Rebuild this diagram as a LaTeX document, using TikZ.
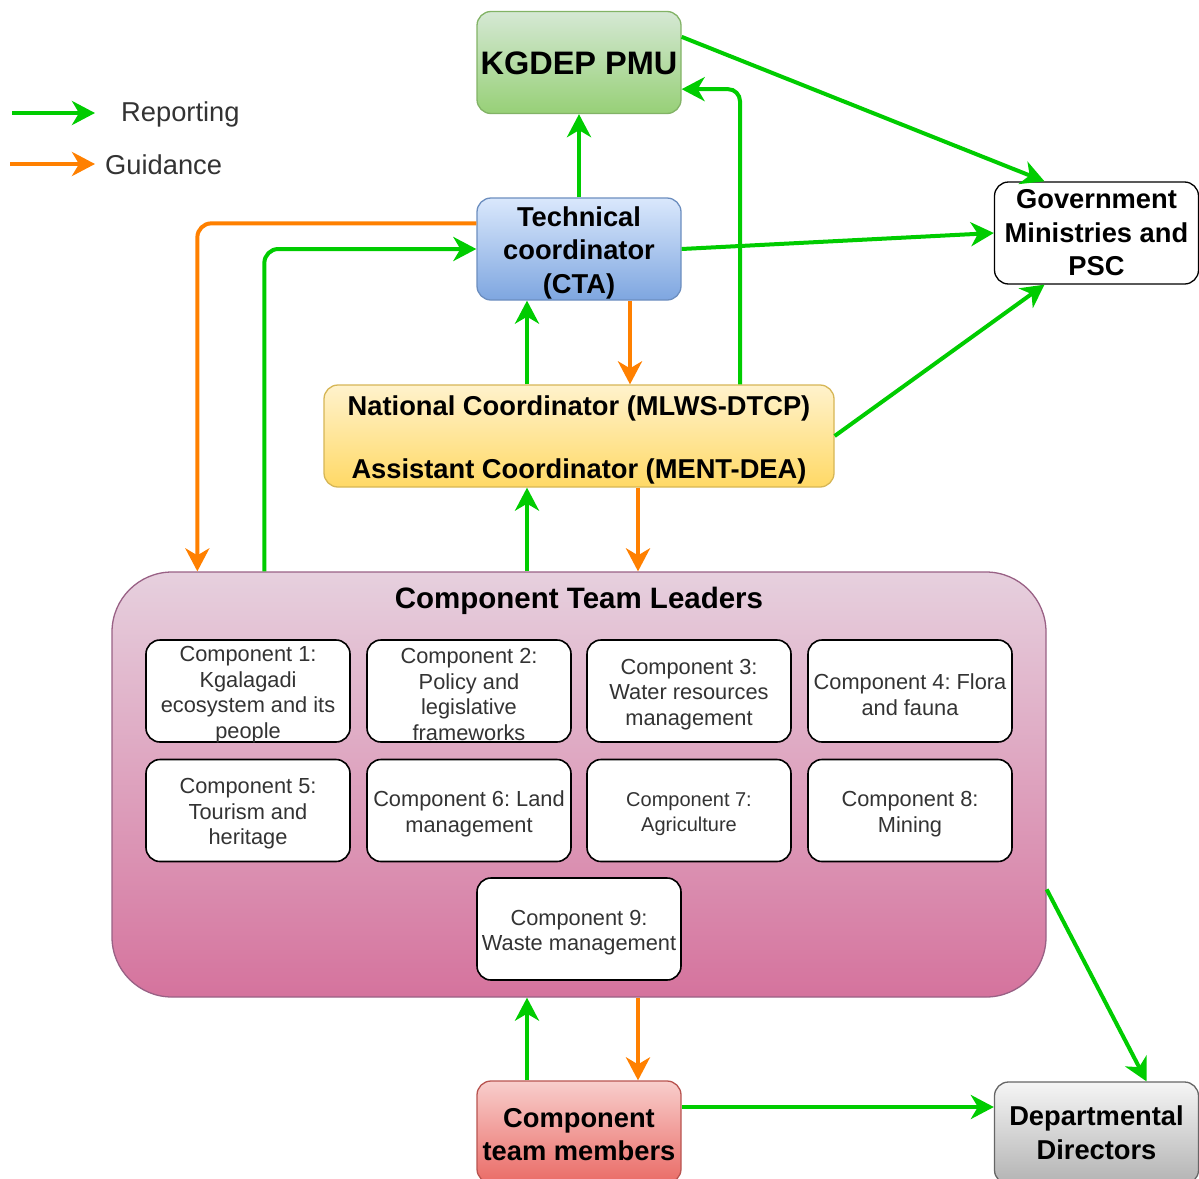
\documentclass[tikz,border=0pt]{standalone}
\usepackage{fontspec}
\setmainfont{Liberation Sans}
\frenchspacing
\usetikzlibrary{arrows.meta,calc}
\definecolor{rep}{HTML}{00CC00}
\definecolor{gui}{HTML}{FF8000}
\definecolor{txt}{HTML}{333333}
\definecolor{pmuS}{HTML}{82B366}\definecolor{pmuT}{HTML}{D5E8D4}\definecolor{pmuB}{HTML}{97D077}
\definecolor{ctaS}{HTML}{6C8EBF}\definecolor{ctaT}{HTML}{DAE8FC}\definecolor{ctaB}{HTML}{7EA6E0}
\definecolor{ncS}{HTML}{D6B656}\definecolor{ncT}{HTML}{FFF2CC}\definecolor{ncB}{HTML}{FFD966}
\definecolor{tmS}{HTML}{996185}\definecolor{tmT}{HTML}{E6D0DE}\definecolor{tmB}{HTML}{D5739D}
\definecolor{ctmS}{HTML}{B85450}\definecolor{ctmT}{HTML}{F8CECC}\definecolor{ctmB}{HTML}{EA6B66}
\definecolor{ddS}{HTML}{666666}\definecolor{ddT}{HTML}{F5F5F5}\definecolor{ddB}{HTML}{B3B3B3}
\tikzset{
  arr/.style={line width=4pt,-{Stealth[length=23pt,width=24pt,inset=7pt]}},
  reparr/.style={arr,draw=rep},
  guiarr/.style={arr,draw=gui},
  bigbox/.style={line width=1.3pt,rounded corners=14pt,minimum width=204pt,minimum height=102pt,align=center,inner sep=0pt,
    font=\bfseries\fontsize{27.3}{33.5}\selectfont},
  bigtxt/.style={align=center,inner sep=0pt,yshift=-3.5pt,font=\bfseries\fontsize{27.3}{33.5}\selectfont},
  comp/.style={draw=black,line width=1.6pt,fill=white,rounded corners=14pt,minimum width=204pt,minimum height=102pt,inner sep=0pt},
  comptxt/.style={align=center,inner sep=0pt,yshift=-3.5pt,text=txt,font=\fontsize{21.8}{25.5}\selectfont},
}
\begin{document}
\begin{tikzpicture}[x=1pt,y=-1pt]
\useasboundingbox (0,0) rectangle (1199,1178);
% legend
\coordinate (l1s) at (12,113); \coordinate (l1e) at (95,113);
\coordinate (l2s) at (10,164); \coordinate (l2e) at (95,164);
\draw[reparr] (l1s) -- (l1e);
\draw[guiarr] (l2s) -- (l2e);
\node[anchor=west,inner sep=0pt,text=txt,font=\fontsize{27.3}{33}\selectfont] (legrep) at (121,114) {Reporting};
\node[anchor=west,inner sep=0pt,text=txt,font=\fontsize{27.3}{33}\selectfont] (leggui) at (105,165) {Guidance};

% main boxes
\node[bigbox,draw=pmuS,top color=pmuT,bottom color=pmuB] (pmu) at (579,62.5) {};
\node[font=\bfseries\fontsize{32.5}{38}\selectfont,inner sep=0pt] (pmut) at (579,63) {KGDEP PMU};
\node[bigbox,draw=ctaS,top color=ctaT,bottom color=ctaB,label={[bigtxt]center:{Technical\\coordinator\\(CTA)}}] (cta) at (579,249) {};
\node[bigbox,draw=black,fill=white] (gov) at (1096.5,233) {Government\\Ministries and\\PSC};
\node[bigbox,draw=ncS,top color=ncT,bottom color=ncB,minimum width=510pt,
      label={[bigtxt,font=\bfseries\fontsize{27.3}{31.5}\selectfont]center:{National Coordinator (MLWS-DTCP)\\[31.5pt]Assistant Coordinator (MENT-DEA)}}] (nc) at (579,436) {};
\node[draw=tmS,line width=1.3pt,rounded corners=60pt,top color=tmT,bottom color=tmB,
      minimum width=934pt,minimum height=425pt,inner sep=0pt] (team) at (579,784.5) {};
\node[font=\bfseries\fontsize{29.5}{34}\selectfont,inner sep=0pt] (teamt) at (579,601) {Component Team Leaders};

\node[comp,label={[comptxt]center:{Component 1:\\Kgalagadi\\ecosystem and its\\people}}] (c1) at (248,691) {};
\node[comp,label={[comptxt]center:{Component 2:\\Policy and\\legislative\\frameworks}}] (c2) at (469,691) {};
\node[comp,label={[comptxt]center:{Component 3:\\Water resources\\management}}] (c3) at (689,691) {};
\node[comp,label={[comptxt]center:{Component 4: Flora\\and fauna}}] (c4) at (910,691) {};
\node[comp,label={[comptxt]center:{Component 5:\\Tourism and\\heritage}}] (c5) at (248,810.5) {};
\node[comp,label={[comptxt]center:{Component 6: Land\\management}}] (c6) at (469,810.5) {};
\node[comp,label={[comptxt,font=\fontsize{20}{25.5}\selectfont]center:{Component 7:\\Agriculture}}] (c7) at (689,810.5) {};
\node[comp,label={[comptxt]center:{Component 8:\\Mining}}] (c8) at (910,810.5) {};
\node[comp,label={[comptxt]center:{Component 9:\\Waste management}}] (c9) at (579,929) {};

\node[bigbox,draw=ctmS,top color=ctmT,bottom color=ctmB,
      label={[bigtxt,yshift=0.5pt,font=\bfseries\fontsize{27.3}{33}\selectfont]center:{Component\\team members}}] (ctm) at (579,1132) {};
\node[bigbox,draw=ddS,top color=ddT,bottom color=ddB,font=\bfseries\fontsize{27.3}{34}\selectfont] (dd) at (1096.5,1133) {Departmental\\Directors};

% connectors
\draw[reparr] (cta.north) -- (pmu.south);
\draw[reparr] ($(pmu.north east)+(0,26)$) -- ($(gov.north)+(-52,0)$);
\draw[reparr] (cta.east) -- (gov.west);
\draw[reparr] (nc.east) -- ($(gov.south)+(-52,0)$);
\draw[reparr,rounded corners=12pt] ($(nc.north)+(161,0)$) |- ($(pmu.south east)+(0,-25)$);
\draw[guiarr,rounded corners=14pt] ($(cta.north west)+(0,26)$) -| ($(team.north west)+(86,0)$);
\draw[reparr,rounded corners=14pt] ($(team.north west)+(153,0)$) |- (cta.west);
\draw[reparr] ($(nc.north)+(-52,0)$) -- ($(cta.south)+(-52,0)$);
\draw[guiarr] ($(cta.south)+(51,0)$) -- ($(nc.north)+(51,0)$);
\draw[reparr] ($(team.north)+(-52,0)$) -- ($(nc.south)+(-52,0)$);
\draw[guiarr] ($(nc.south)+(59,0)$) -- ($(team.north)+(59,0)$);
\draw[reparr] ($(ctm.north)+(-52,0)$) -- ($(team.south)+(-52,0)$);
\draw[guiarr] ($(team.south)+(59,0)$) -- ($(ctm.north)+(59,0)$);
\draw[reparr] ($(ctm.east)+(0,-25)$) -- ($(dd.west)+(0,-26)$);
\draw[reparr] ($(team.north east)+(0,318)$) -- ($(dd.north)+(50,0)$);
\end{tikzpicture}
\end{document}
